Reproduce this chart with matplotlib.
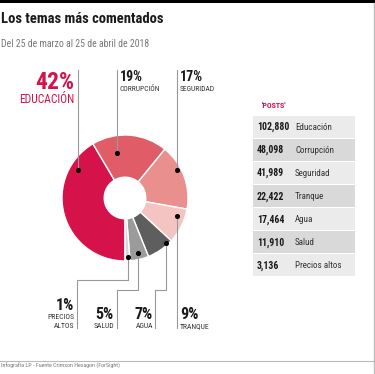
import matplotlib.pyplot as plt
from matplotlib import font_manager

# pick a condensed face if one is installed
installed = {f.name for f in font_manager.fontManager.ttflist}
cands = ["Roboto Condensed", "Barlow Condensed", "Archivo Narrow", "PT Sans Narrow",
         "Liberation Sans Narrow", "Fira Sans Condensed", "Open Sans Condensed", "Oswald"]
fam = [c for c in cands if c in installed][:1]
plt.rcParams['font.family'] = fam + ['DejaVu Sans']

# data
temas = ["Educación", "Corrupción", "Seguridad", "Tranque", "Agua", "Salud", "Precios altos"]
etiquetas = ["EDUCACIÓN", "CORRUPCIÓN", "SEGURIDAD", "TRANQUE", "AGUA", "SALUD", "PRECIOS", "ALTOS"]
posts = [102880, 48098, 41989, 22422, 17464, 11910, 3136]
porcentajes = [42, 19, 17, 9, 7, 5, 1]
colores = ["#d5124a", "#e05d68", "#e9908f", "#f4c4c3", "#5e5e5e", "#9b9b9b", "#d6d6d6"]

W, H = 375, 374
fig = plt.figure(figsize=(W / 100, H / 100), dpi=100)

# donut, center (125,198) px, radius 63 px
cx, cy, r = 125, 198, 63
axp = fig.add_axes([(cx - r) / W, (H - cy - r) / H, 2 * r / W, 2 * r / H])
axp.pie(posts, colors=colores, startangle=270, counterclock=False, radius=1,
        wedgeprops=dict(width=0.67, edgecolor="white", linewidth=1.0))
axp.set_xlim(-1, 1)
axp.set_ylim(-1, 1)
axp.set_aspect("auto")
axp.axis("off")

# overlay in pixel coordinates (y down)
ax = fig.add_axes([0, 0, 1, 1])
ax.set_xlim(0, W)
ax.set_ylim(H, 0)
ax.axis("off")

# frame
ax.axhspan(0, 3, color="black", lw=0)
ax.plot([373.5, 373.5], [3, H], color="#bbbbbb", lw=1)
ax.plot([0, 373.5], [360.5, 360.5], color="#bbbbbb", lw=0.8)

ax.text(1, 19, "Los temas más comentados", fontsize=10.5, fontweight="bold",
        color="#1a1a1a", va="center", ha="left")
ax.text(1, 43.5, "Del 25 de marzo al 25 de abril de 2018", fontsize=7,
        color="#777777", va="center", ha="left")
ax.text(1, 366, "Infografía LP - Fuente Crimson Hexagon (ForSight)", fontsize=4.3,
        color="#777777", va="center", ha="left")

# leaders
dots = [(78, 170), (117, 153), (177, 170), (177, 216), (166, 243), (138, 253), (128, 257)]
lc = "#999999"
ax.plot([78, 78], [70, 170], color=lc, lw=0.8)
ax.plot([117, 117], [70, 153], color=lc, lw=0.8)
ax.plot([177, 177], [70, 170], color=lc, lw=0.8)
ax.plot([177, 177], [216, 328], color=lc, lw=0.8)
ax.plot([166, 166, 155, 155], [243, 290, 290, 328], color=lc, lw=0.8)
ax.plot([138, 138, 117, 117], [253, 290, 290, 328], color=lc, lw=0.8)
ax.plot([128, 128, 77, 77], [257, 280, 280, 328], color=lc, lw=0.8)
ax.scatter([d[0] for d in dots], [d[1] for d in dots], s=7, color="black", zorder=5)

red = "#d5124a"
ax.text(74, 89, f"{porcentajes[0]}%", fontsize=17, fontweight="bold", color=red,
        ha="right", va="baseline")
ax.text(74, 103, etiquetas[0], fontsize=8.3, color=red, ha="right", va="baseline")
for i, x in [(1, 120), (2, 180)]:
    ax.text(x, 80.5, f"{porcentajes[i]}%", fontsize=10, fontweight="bold",
            color="#1a1a1a", ha="left", va="baseline")
    ax.text(x, 90.5, etiquetas[i], fontsize=5.4, color="#333333", ha="left", va="baseline")

ax.text(180, 319, f"{porcentajes[3]}%", fontsize=11.5, fontweight="bold",
        color="#1a1a1a", ha="left", va="baseline")
ax.text(180, 328.5, etiquetas[3], fontsize=5.5, color="#333333", ha="left", va="baseline")
for i, x in [(4, 153), (5, 114)]:
    ax.text(x, 319, f"{porcentajes[i]}%", fontsize=11.5, fontweight="bold",
            color="#1a1a1a", ha="right", va="baseline")
    ax.text(x, 328.5, etiquetas[i], fontsize=5.5, color="#333333", ha="right", va="baseline")
ax.text(74, 310, f"{porcentajes[6]}%", fontsize=11.5, fontweight="bold",
        color="#1a1a1a", ha="right", va="baseline")
ax.text(74, 319, etiquetas[6], fontsize=5.5, color="#333333", ha="right", va="baseline")
ax.text(74, 328.5, etiquetas[7], fontsize=5.5, color="#333333", ha="right", va="baseline")

# table
ax.text(262, 108, "'POSTS'", fontsize=5.7, fontweight="bold", color=red,
        ha="left", va="baseline")
row_h = 23.1
y0 = 115 + row_h / 2
ys = [y0 + i * row_h for i in range(len(temas))]
band = ["#ebebeb" if i % 2 == 0 else "#d9d9d9" for i in range(len(temas))]
ax.barh(ys, [102] * len(temas), left=253, height=row_h - 1, color=band, lw=0)
for y, p, t in zip(ys, posts, temas):
    ax.text(257, y + 0.5, f"{p:,}", fontsize=7, fontweight="bold", color="#1a1a1a",
            ha="left", va="center")
    ax.text(295, y + 0.5, t, fontsize=6.5, color="#333333", ha="left", va="center")

fig.savefig("out.png", dpi=100)
